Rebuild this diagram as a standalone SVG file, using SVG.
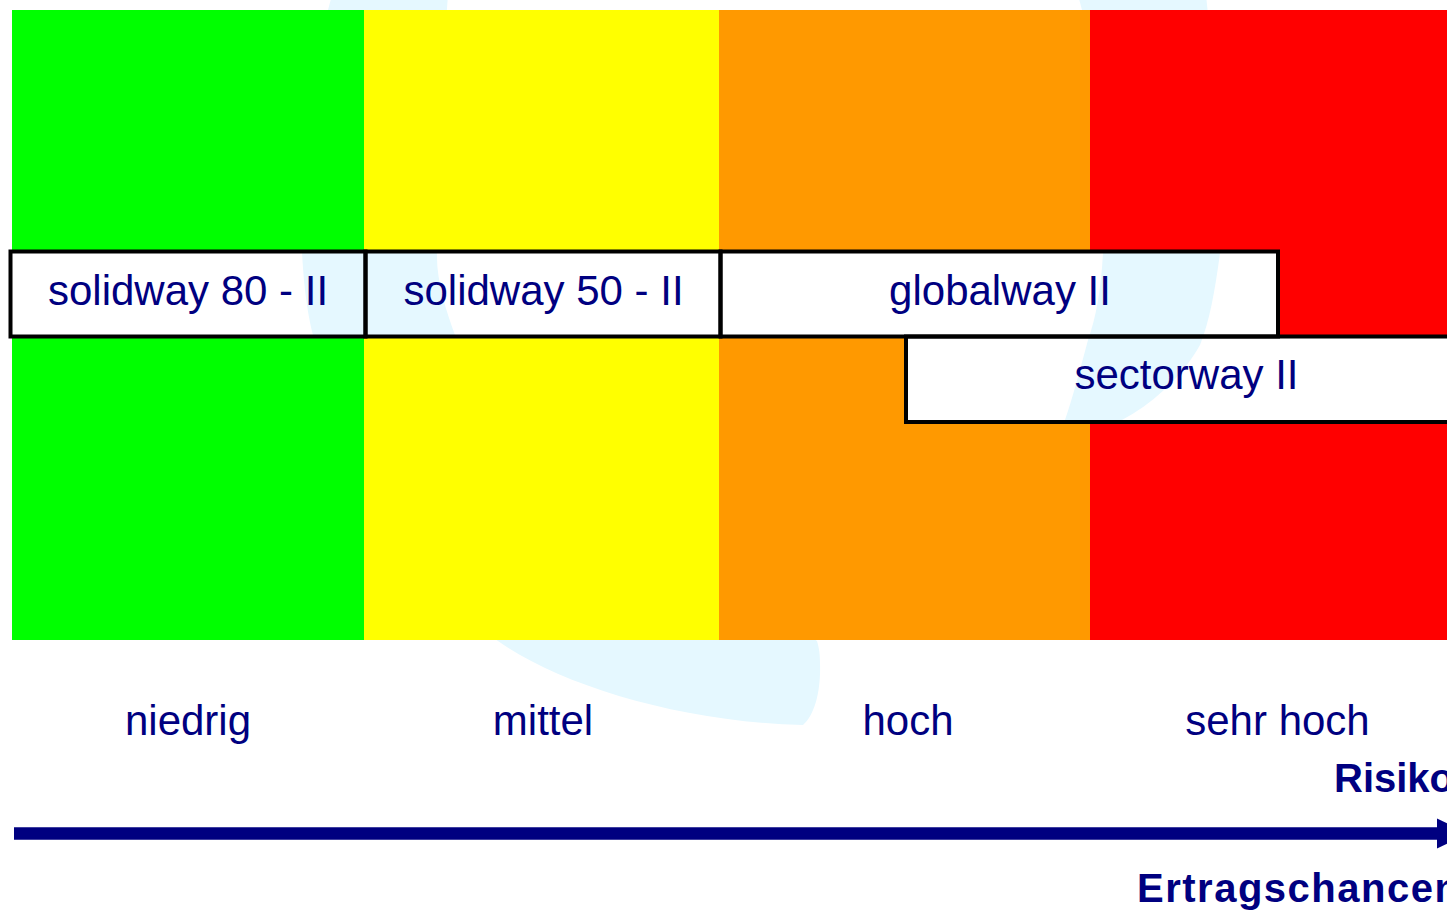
<svg xmlns="http://www.w3.org/2000/svg" width="1447" height="911" viewBox="0 0 1447 911">
  <style>
    .box { fill: none; stroke: #000000; stroke-width: 4; }
    .boxfill { fill: #FFFFFF; stroke: none; }
    .lbl { font-family: "Liberation Sans", Arial, sans-serif; font-size: 42px; fill: #000080; text-anchor: middle; }
    .axis { font-family: "Liberation Sans", Arial, sans-serif; font-size: 40px; font-weight: bold; fill: #000080; }
    .wm { fill: #E5F8FF; }
  </style>
  <defs>
    <marker id="arrowhead" markerUnits="userSpaceOnUse" markerWidth="40" markerHeight="40" refX="0" refY="16" orient="auto">
      <path d="M0,1 L32,16 L0,31 Z" fill="#000080"/>
    </marker>
    <clipPath id="wmclip">
      <rect x="0" y="0" width="1447" height="10"/>
      <rect x="0" y="640" width="1447" height="271"/>
      <rect x="0" y="0" width="12" height="911"/>
      <rect x="10.5" y="251.5" width="1267.5" height="85"/>
      <rect x="906" y="336.5" width="561" height="85.5"/>
    </clipPath>
  </defs>

  <rect x="0" y="0" width="1447" height="911" fill="#FFFFFF"/>

  <g id="bands">
    <rect x="12" y="10" width="352" height="630" fill="#00FF00"/>
    <rect x="364" y="10" width="355" height="630" fill="#FFFF00"/>
    <rect x="719" y="10" width="371" height="630" fill="#FF9900"/>
    <rect x="1090" y="10" width="357" height="630" fill="#FF0000"/>
  </g>

  <g id="box-fills">
    <rect class="boxfill" x="10.5" y="251.5" width="1267.5" height="85"/>
    <rect class="boxfill" x="906" y="336.5" width="561" height="85.5"/>
  </g>

  <g id="watermark" clip-path="url(#wmclip)">
    <path class="wm" d="M332,-5 L328,10 C315,120 300,200 302,252 C304,290 308,315 313,335 C340,480 420,590 498,641 C560,685 680,722 803,725 C815,715 821,690 820,663 C820,650 818,645 817,641 C700,560 520,460 455,335 C446,310 436,280 437,252 C438,150 443,60 448,-5 Z"/>
    <path class="wm" d="M1078,-5 L1082,10 C1095,100 1105,200 1103,253 C1101,290 1096,318 1088,340 C1080,370 1072,400 1065,420 L1020,560 L1122,420 C1150,405 1180,380 1200,345 C1210,320 1215,290 1220,253 C1222,180 1215,80 1206,-5 Z"/>
  </g>

  <g id="node-solidway80">
    <rect class="box" x="10.5" y="251.5" width="355" height="85"/>
    <text class="lbl" x="188" y="305">solidway 80 - II</text>
  </g>
  <g id="node-solidway50">
    <rect class="box" x="365.5" y="251.5" width="355" height="85"/>
    <text class="lbl" x="543.5" y="305">solidway 50 - II</text>
  </g>
  <g id="node-globalway">
    <rect class="box" x="720.5" y="251.5" width="557.5" height="85"/>
    <text class="lbl" x="1000" y="305">globalway II</text>
  </g>
  <g id="node-sectorway">
    <rect class="box" x="906" y="336.5" width="561" height="85.5"/>
    <text class="lbl" x="1186.5" y="389">sectorway II</text>
  </g>

  <g id="risk-labels">
    <text class="lbl" x="188" y="735">niedrig</text>
    <text class="lbl" x="543" y="735">mittel</text>
    <text class="lbl" x="908" y="735">hoch</text>
    <text class="lbl" x="1277.5" y="735">sehr hoch</text>
  </g>

  <g id="connectors">
    <path d="M14,833.5 L1437,833.5" stroke="#000080" stroke-width="12.5" fill="none" marker-end="url(#arrowhead)"/>
  </g>

  <g id="axis-labels">
    <text class="axis" x="1334" y="792">Risiko</text>
    <text class="axis" x="1137" y="902" letter-spacing="1.5">Ertragschancen</text>
  </g>
</svg>
